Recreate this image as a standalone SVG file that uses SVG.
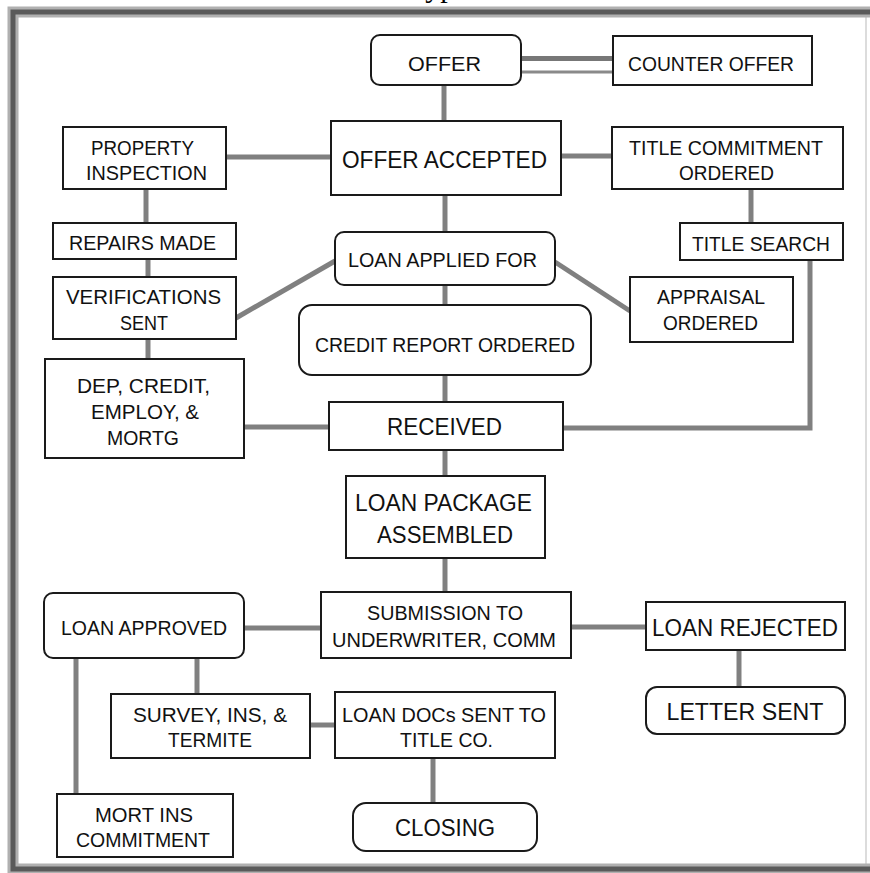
<svg xmlns="http://www.w3.org/2000/svg" width="870" height="873" viewBox="0 0 870 873">
<style>
  .box{fill:#fff;stroke:#1a1a1a;stroke-width:2}
  .t{font-family:"Liberation Sans",Arial,sans-serif;font-size:19.5px;fill:#111;text-anchor:middle}
  .big{font-size:23px}
  .c{stroke:#808080;stroke-width:5;fill:none}
  .frO{stroke:#b0b0b0;stroke-width:11;fill:none}
  .frI{stroke:#5a5a5a;stroke-width:5;fill:none}
</style>
<rect x="0" y="0" width="870" height="873" fill="#fff"/>
<text x="409" y="-3" font-family="Liberation Serif,serif" font-size="30" fill="#000">Typical</text>
<g id="frame">
  <line x1="866" y1="12" x2="866" y2="869" stroke="#dcdcdc" stroke-width="2"/>
  <polyline class="frO" points="870,12 13,12 13,869 870,869"/>
  <polyline class="frI" points="870,12 13,12 13,869 870,869"/>
</g>
<g id="connectors">
  <line x1="521" y1="58.5" x2="613" y2="58.5" stroke="#777" stroke-width="5"/>
  <line x1="521" y1="72" x2="613" y2="72" stroke="#8a8a8a" stroke-width="3"/>
  <line class="c" x1="444" y1="85" x2="444" y2="121"/>
  <line class="c" x1="226" y1="157" x2="331" y2="157"/>
  <line class="c" x1="561" y1="156" x2="612" y2="156"/>
  <line class="c" x1="751" y1="189" x2="751" y2="223"/>
  <line class="c" x1="146" y1="189" x2="146" y2="223"/>
  <line class="c" x1="148" y1="259" x2="148" y2="277"/>
  <line class="c" x1="445" y1="195" x2="445" y2="232"/>
  <line class="c" x1="236" y1="318" x2="335" y2="261"/>
  <line class="c" x1="555" y1="262" x2="630" y2="311"/>
  <line class="c" x1="445" y1="285" x2="445" y2="305"/>
  <line class="c" x1="148" y1="339" x2="148" y2="359"/>
  <line class="c" x1="445" y1="375" x2="445" y2="402"/>
  <line class="c" x1="244" y1="427" x2="329" y2="427"/>
  <polyline class="c" points="810,260 810,428 563,428"/>
  <line class="c" x1="445" y1="450" x2="445" y2="476"/>
  <line class="c" x1="445" y1="558" x2="445" y2="592"/>
  <line class="c" x1="244" y1="628" x2="321" y2="628"/>
  <line class="c" x1="571" y1="627" x2="646" y2="627"/>
  <line class="c" x1="739" y1="650" x2="739" y2="687"/>
  <line class="c" x1="197" y1="658" x2="197" y2="694"/>
  <line class="c" x1="76" y1="658" x2="76" y2="794"/>
  <line class="c" x1="310" y1="725" x2="335" y2="725"/>
  <line class="c" x1="433" y1="758" x2="433" y2="803"/>
</g>
<g id="offer"><rect class="box" x="371" y="35" width="150" height="50" rx="9"/><text class="t" x="444.5" y="71" font-size="21" textLength="73" lengthAdjust="spacingAndGlyphs">OFFER</text></g>
<g id="counter-offer"><rect class="box" x="613" y="36" width="199" height="49"/><text class="t" x="711" y="71" textLength="166" lengthAdjust="spacingAndGlyphs">COUNTER OFFER</text></g>
<g id="property-inspection"><rect class="box" x="63" y="127" width="163" height="62"/><text class="t" x="142.5" y="155" textLength="103" lengthAdjust="spacingAndGlyphs">PROPERTY</text><text class="t" x="146.5" y="180" textLength="121" lengthAdjust="spacingAndGlyphs">INSPECTION</text></g>
<g id="offer-accepted"><rect class="box" x="331" y="121" width="230" height="74"/><text class="t big" x="444.5" y="168" textLength="205" lengthAdjust="spacingAndGlyphs">OFFER ACCEPTED</text></g>
<g id="title-commitment"><rect class="box" x="612" y="127" width="231" height="62"/><text class="t" x="726" y="155" textLength="194" lengthAdjust="spacingAndGlyphs">TITLE COMMITMENT</text><text class="t" x="726.5" y="180" textLength="95" lengthAdjust="spacingAndGlyphs">ORDERED</text></g>
<g id="repairs-made"><rect class="box" x="53" y="223" width="183" height="36"/><text class="t" x="142.5" y="250" textLength="147" lengthAdjust="spacingAndGlyphs">REPAIRS MADE</text></g>
<g id="title-search"><rect class="box" x="680" y="223" width="163" height="37"/><text class="t" x="761" y="251" textLength="138" lengthAdjust="spacingAndGlyphs">TITLE SEARCH</text></g>
<g id="loan-applied"><rect class="box" x="335" y="232" width="220" height="53" rx="9"/><text class="t" x="442.5" y="267" textLength="189" lengthAdjust="spacingAndGlyphs">LOAN APPLIED FOR</text></g>
<g id="verifications-sent"><rect class="box" x="53" y="277" width="183" height="62"/><text class="t" x="143.5" y="304" textLength="155" lengthAdjust="spacingAndGlyphs">VERIFICATIONS</text><text class="t" x="144" y="330" textLength="48" lengthAdjust="spacingAndGlyphs">SENT</text></g>
<g id="appraisal-ordered"><rect class="box" x="630" y="277" width="163" height="65"/><text class="t" x="711" y="304" textLength="108" lengthAdjust="spacingAndGlyphs">APPRAISAL</text><text class="t" x="710.5" y="330" textLength="95" lengthAdjust="spacingAndGlyphs">ORDERED</text></g>
<g id="credit-report"><rect class="box" x="299" y="305" width="292" height="70" rx="13"/><text class="t" x="445" y="352" textLength="260" lengthAdjust="spacingAndGlyphs">CREDIT REPORT ORDERED</text></g>
<g id="dep-credit"><rect class="box" x="45" y="359" width="199" height="99"/><text class="t" x="143.5" y="393" textLength="133" lengthAdjust="spacingAndGlyphs">DEP, CREDIT,</text><text class="t" x="145" y="419" textLength="108" lengthAdjust="spacingAndGlyphs">EMPLOY, &amp;</text><text class="t" x="143" y="445" textLength="72" lengthAdjust="spacingAndGlyphs">MORTG</text></g>
<g id="received"><rect class="box" x="329" y="402" width="234" height="48"/><text class="t big" x="444.5" y="435" textLength="115" lengthAdjust="spacingAndGlyphs">RECEIVED</text></g>
<g id="loan-package"><rect class="box" x="346" y="476" width="199" height="82"/><text class="t big" x="443.5" y="511" textLength="177" lengthAdjust="spacingAndGlyphs">LOAN PACKAGE</text><text class="t big" x="445" y="543" textLength="136" lengthAdjust="spacingAndGlyphs">ASSEMBLED</text></g>
<g id="loan-approved"><rect class="box" x="44" y="593" width="200" height="65" rx="9"/><text class="t" x="144" y="635" textLength="166" lengthAdjust="spacingAndGlyphs">LOAN APPROVED</text></g>
<g id="submission"><rect class="box" x="321" y="592" width="250" height="66"/><text class="t" x="445" y="620" textLength="156" lengthAdjust="spacingAndGlyphs">SUBMISSION TO</text><text class="t" x="444" y="647" textLength="224" lengthAdjust="spacingAndGlyphs">UNDERWRITER, COMM</text></g>
<g id="loan-rejected"><rect class="box" x="646" y="602" width="199" height="48"/><text class="t big" x="745" y="636" font-size="24" textLength="186" lengthAdjust="spacingAndGlyphs">LOAN REJECTED</text></g>
<g id="letter-sent"><rect class="box" x="646" y="687" width="199" height="47" rx="11"/><text class="t big" x="745" y="720" font-size="24" textLength="157" lengthAdjust="spacingAndGlyphs">LETTER SENT</text></g>
<g id="survey"><rect class="box" x="111" y="694" width="199" height="64"/><text class="t" x="210" y="722" textLength="154" lengthAdjust="spacingAndGlyphs">SURVEY, INS, &amp;</text><text class="t" x="210" y="747" textLength="84" lengthAdjust="spacingAndGlyphs">TERMITE</text></g>
<g id="loan-docs"><rect class="box" x="335" y="692" width="220" height="66"/><text class="t" x="444" y="722" textLength="204" lengthAdjust="spacingAndGlyphs">LOAN DOCs SENT TO</text><text class="t" x="446.5" y="747" textLength="93" lengthAdjust="spacingAndGlyphs">TITLE CO.</text></g>
<g id="mort-ins"><rect class="box" x="57" y="794" width="176" height="63"/><text class="t" x="144" y="822" textLength="98" lengthAdjust="spacingAndGlyphs">MORT INS</text><text class="t" x="143" y="847" textLength="134" lengthAdjust="spacingAndGlyphs">COMMITMENT</text></g>
<g id="closing"><rect class="box" x="353" y="803" width="184" height="48" rx="13"/><text class="t big" x="445" y="836" textLength="100" lengthAdjust="spacingAndGlyphs">CLOSING</text></g>
</svg>
